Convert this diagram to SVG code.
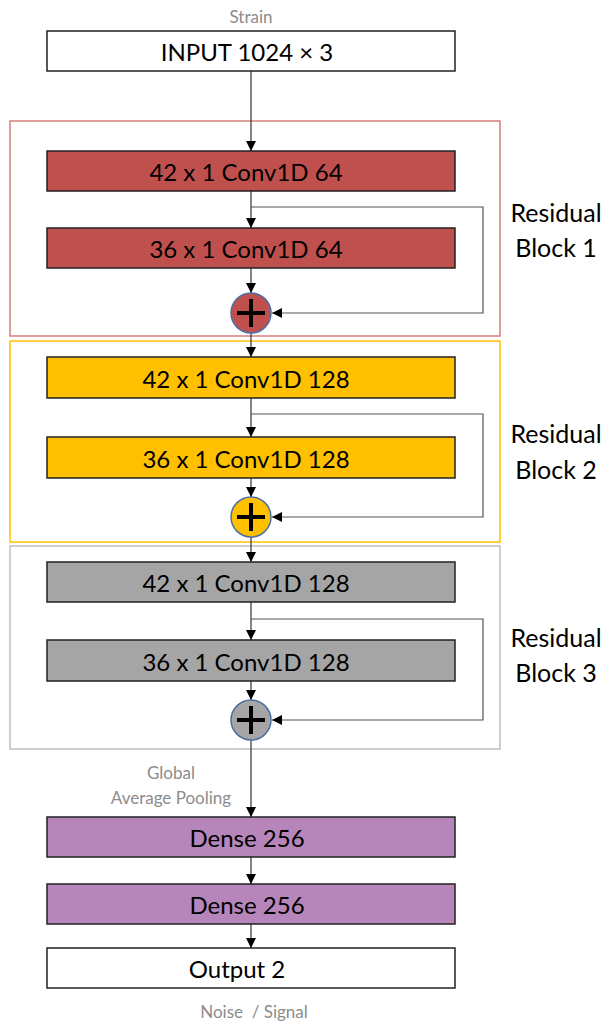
<svg xmlns="http://www.w3.org/2000/svg" width="606" height="1021" viewBox="0 0 606 1021">
  <defs>
    <marker id="arrow" viewBox="0 0 10 10" refX="10" refY="5" markerWidth="10" markerHeight="10" markerUnits="userSpaceOnUse" orient="auto">
      <path d="M0,0 L10,5 L0,10 Z" fill="#000"/>
    </marker>
    <style>
      .layer { stroke: #222; stroke-width: 1.5; }
      .lbl { font-family: Lato, "Open Sans", sans-serif; font-size: 24px; fill: #000; text-anchor: middle; dominant-baseline: central; }
      .note { font-family: Lato, "Open Sans", sans-serif; font-size: 17px; fill: #8c8c8c; text-anchor: middle; white-space: pre; }
      .side { font-family: Lato, "Open Sans", sans-serif; font-size: 25px; fill: #000; text-anchor: middle; }
      .conn { stroke: #333; stroke-width: 1.2; fill: none; }
      .skip { stroke: #555; stroke-width: 1.2; fill: none; }
      .add { stroke: #4a6fa5; stroke-width: 1.5; }
      .plus { stroke: #000; stroke-width: 4; }
      .red { fill: #c0504d; }
      .yellow { fill: #ffc000; }
      .grey { fill: #a5a5a5; }
      .purple { fill: #b686bb; }
      .white { fill: #fff; }
    </style>
  </defs>
  <rect width="606" height="1021" fill="#fff"/>

  <!-- block frames -->
  <g id="block1">
    <rect x="10" y="121" width="490" height="215" fill="none" stroke="#d4807b" stroke-width="1.5"/>
    <text class="side" x="556" y="222">Residual</text>
    <text class="side" x="556" y="257">Block 1</text>
  </g>
  <g id="block2">
    <rect x="10" y="341" width="490" height="201" fill="none" stroke="#ffc000" stroke-width="1.5"/>
    <text class="side" x="556" y="443">Residual</text>
    <text class="side" x="556" y="479">Block 2</text>
  </g>
  <g id="block3">
    <rect x="10" y="546" width="490" height="203" fill="none" stroke="#bfbfbf" stroke-width="1.5"/>
    <text class="side" x="556" y="647">Residual</text>
    <text class="side" x="556" y="682">Block 3</text>
  </g>

  <!-- connectors -->
  <g id="connectors">
    <line class="conn" x1="251" y1="71" x2="251" y2="151" marker-end="url(#arrow)"/>
    <line class="conn" x1="251" y1="191" x2="251" y2="228" marker-end="url(#arrow)"/>
    <polyline class="skip" points="251,207 483,207 483,313 272,313" marker-end="url(#arrow)"/>
    <line class="conn" x1="251" y1="268" x2="251" y2="293" marker-end="url(#arrow)"/>
    <line class="conn" x1="251" y1="333" x2="251" y2="357" marker-end="url(#arrow)"/>

    <line class="conn" x1="251" y1="398" x2="251" y2="437" marker-end="url(#arrow)"/>
    <polyline class="skip" points="251,414 483,414 483,517 272,517" marker-end="url(#arrow)"/>
    <line class="conn" x1="251" y1="478" x2="251" y2="497" marker-end="url(#arrow)"/>
    <line class="conn" x1="251" y1="537" x2="251" y2="562" marker-end="url(#arrow)"/>

    <line class="conn" x1="251" y1="602" x2="251" y2="640" marker-end="url(#arrow)"/>
    <polyline class="skip" points="251,619 483,619 483,720 272,720" marker-end="url(#arrow)"/>
    <line class="conn" x1="251" y1="681" x2="251" y2="700" marker-end="url(#arrow)"/>
    <line class="conn" x1="251" y1="740" x2="251" y2="817" marker-end="url(#arrow)"/>

    <line class="conn" x1="251" y1="857" x2="251" y2="884" marker-end="url(#arrow)"/>
    <line class="conn" x1="251" y1="924" x2="251" y2="948" marker-end="url(#arrow)"/>
  </g>

  <!-- input -->
  <g id="input">
    <text class="note" x="251" y="23">Strain</text>
    <rect class="layer white" x="47" y="31" width="408" height="40"/>
    <text class="lbl" x="247" y="51" font-size="25">INPUT 1024 × 3</text>
  </g>

  <!-- residual block 1 -->
  <g id="conv1a">
    <rect class="layer red" x="47" y="151" width="408" height="40"/>
    <text class="lbl" x="246" y="171">42 x 1 Conv1D 64</text>
  </g>
  <g id="conv1b">
    <rect class="layer red" x="47" y="228" width="408" height="40"/>
    <text class="lbl" x="246" y="248">36 x 1 Conv1D 64</text>
  </g>
  <g id="add1">
    <circle class="add red" cx="251" cy="313" r="20"/>
    <path class="plus" d="M237,313 H265 M251,299 V327"/>
  </g>

  <!-- residual block 2 -->
  <g id="conv2a">
    <rect class="layer yellow" x="47" y="357" width="408" height="41"/>
    <text class="lbl" x="246" y="378">42 x 1 Conv1D 128</text>
  </g>
  <g id="conv2b">
    <rect class="layer yellow" x="47" y="437" width="408" height="41"/>
    <text class="lbl" x="246" y="458">36 x 1 Conv1D 128</text>
  </g>
  <g id="add2">
    <circle class="add yellow" cx="251" cy="517" r="20"/>
    <path class="plus" d="M237,517 H265 M251,503 V531"/>
  </g>

  <!-- residual block 3 -->
  <g id="conv3a">
    <rect class="layer grey" x="47" y="562" width="408" height="40"/>
    <text class="lbl" x="246" y="582">42 x 1 Conv1D 128</text>
  </g>
  <g id="conv3b">
    <rect class="layer grey" x="47" y="640" width="408" height="41"/>
    <text class="lbl" x="246" y="661">36 x 1 Conv1D 128</text>
  </g>
  <g id="add3">
    <circle class="add grey" cx="251" cy="720" r="20"/>
    <path class="plus" d="M237,720 H265 M251,706 V734"/>
  </g>

  <!-- head -->
  <g id="gap-label">
    <text class="note" x="171" y="779">Global</text>
    <text class="note" x="171" y="804">Average Pooling</text>
  </g>
  <g id="dense1">
    <rect class="layer purple" x="47" y="817" width="408" height="40"/>
    <text class="lbl" x="247" y="837">Dense 256</text>
  </g>
  <g id="dense2">
    <rect class="layer purple" x="47" y="884" width="408" height="40"/>
    <text class="lbl" x="247" y="904">Dense 256</text>
  </g>
  <g id="output">
    <rect class="layer white" x="47" y="948" width="408" height="40"/>
    <text class="lbl" x="237" y="968">Output 2</text>
    <text class="note" x="254" y="1018">Noise  / Signal</text>
  </g>
</svg>
